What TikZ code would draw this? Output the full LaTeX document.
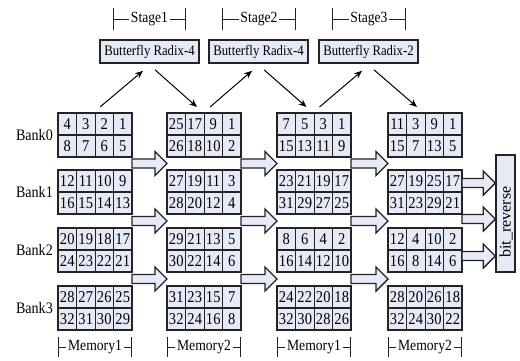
\documentclass[tikz,border=0pt]{standalone}
\usepackage{fontspec}
\setmainfont{Liberation Serif}[FakeStretch=0.88]
\newfontfamily\rawserif{Liberation Serif}
\usetikzlibrary{arrows.meta,calc}
\definecolor{cellfill}{RGB}{230,234,246}
\definecolor{edge}{RGB}{35,35,35}
\tikzset{
  blk/.style={minimum width=74pt, minimum height=44pt, inner sep=0pt, outer sep=0pt, fill=cellfill},
  cell/.style={minimum width=18.5pt, minimum height=22pt, inner sep=0pt, outer sep=0pt,
    draw=edge, line width=0.6pt, fill=cellfill, font=\fontsize{16.5}{16.5}\selectfont},
  blkline/.style={draw=edge, line width=1.5pt},
  bfbox/.style={draw=edge, line width=1.6pt, fill=cellfill, inner sep=0pt,
    minimum width=99pt, minimum height=23pt, font=\fontsize{14.5}{14.5}\selectfont},
  lbl/.style={inner sep=1.5pt, font=\fontsize{15.5}{15.5}\selectfont},
  banklbl/.style={inner sep=0pt, anchor=east, font=\fontsize{16}{16}\selectfont},
  dimline/.style={draw=edge, line width=0.9pt},
  thinarr/.style={draw=black, line width=1pt, -{Stealth[length=8pt,width=6.5pt]}},
  fatarrow/.style={draw=edge, line width=1.4pt, fill=cellfill,
    to path={let \p1=(\tikztostart), \p2=(\tikztotarget) in
      (\x1,{\y1+4.5pt}) -- ({\x2-12pt},{\y1+4.5pt}) -- ({\x2-12pt},{\y1+12pt}) -- (\x2,\y1)
      -- ({\x2-12pt},{\y1-12pt}) -- ({\x2-12pt},{\y1-4.5pt}) -- (\x1,{\y1-4.5pt}) -- cycle}}
}
\newcommand\memblock[5]{%
  \node[blk, anchor=north west] (#1) at (#2,#3) {};
  \foreach \v [count=\i from 0] in {#4}{\node[cell, anchor=north west] (#1-t\i) at ({#2+\i*18.5},#3) {\v};}
  \foreach \v [count=\i from 0] in {#5}{\node[cell, anchor=north west] (#1-b\i) at ({#2+\i*18.5},{#3+22}) {\v};}
  \draw[blkline] (#1.west) -- (#1.east);
  \draw[blkline] (#1.north west) rectangle (#1.south east);
}
\newcommand\spanlabel[6]{% name, xl, xr, y, bar width, text
  \node[lbl] (#1) at ({(#2+#3)/2},#4) {#6};
  \coordinate (#1-l) at (#2,#4);
  \coordinate (#1-r) at (#3,#4);
  \draw[dimline, -{Bar[width=#5]}] (#1.west) -- (#1-l);
  \draw[dimline, -{Bar[width=#5]}] (#1.east) -- (#1-r);
}
\begin{document}
\begin{tikzpicture}[x=1pt,y=-1pt]
\fill[white] (0,0) rectangle (520,360);
\useasboundingbox (0,0) rectangle (520,360);

% stage labels
\spanlabel{st1}{113}{186}{19}{22pt}{Stage1}
\spanlabel{st2}{222}{296}{19}{22pt}{Stage2}
\spanlabel{st3}{332}{406}{19}{22pt}{Stage3}

% butterfly boxes
\node[bfbox] (bf1) at (149.5,51.5) {Butterfly Radix-4};
\node[bfbox] (bf2) at (258.5,51.5) {Butterfly Radix-4};
\node[bfbox] (bf3) at (368.5,51.5) {Butterfly Radix-2};

% memory blocks
\memblock{m1-0}{58}{113}{4,3,2,1}{8,7,6,5}
\memblock{m1-1}{58}{170}{12,11,10,9}{16,15,14,13}
\memblock{m1-2}{58}{228}{20,19,18,17}{24,23,22,21}
\memblock{m1-3}{58}{286}{28,27,26,25}{32,31,30,29}

\memblock{m2-0}{167}{113}{25,17,9,1}{26,18,10,2}
\memblock{m2-1}{167}{170}{27,19,11,3}{28,20,12,4}
\memblock{m2-2}{167}{228}{29,21,13,5}{30,22,14,6}
\memblock{m2-3}{167}{286}{31,23,15,7}{32,24,16,8}

\memblock{m3-0}{277}{113}{7,5,3,1}{15,13,11,9}
\memblock{m3-1}{277}{170}{23,21,19,17}{31,29,27,25}
\memblock{m3-2}{277}{228}{8,6,4,2}{16,14,12,10}
\memblock{m3-3}{277}{286}{24,22,20,18}{32,30,28,26}

\memblock{m4-0}{388}{113}{11,3,9,1}{15,7,13,5}
\memblock{m4-1}{388}{170}{27,19,25,17}{31,23,29,21}
\memblock{m4-2}{388}{228}{12,4,10,2}{16,8,14,6}
\memblock{m4-3}{388}{286}{28,20,26,18}{32,24,30,22}

% bank labels
\node[banklbl] (bk0) at ($(m1-0.west)+(-5,0)$) {Bank0};
\node[banklbl] (bk1) at ($(m1-1.west)+(-5,0)$) {Bank1};
\node[banklbl] (bk2) at ($(m1-2.west)+(-5,0)$) {Bank2};
\node[banklbl] (bk3) at ($(m1-3.west)+(-5,0)$) {Bank3};

% memory labels
\spanlabel{me1}{58}{132}{347}{20pt}{Memory1}
\spanlabel{me2}{167}{241}{347}{20pt}{Memory2}
\spanlabel{me3}{277}{351}{347}{20pt}{Memory1}
\spanlabel{me4}{388}{462}{347}{20pt}{Memory2}

% arrows to and from butterflies
\draw[thinarr] ($(m1-0.north)+(5,-6)$) -- ($(bf1.south)+(-6.5,7)$);
\draw[thinarr] ($(bf1.south)+(5.5,6)$) -- ($(m2-0.north)+(-7,-6)$);
\draw[thinarr] ($(m2-0.north)+(6,-6)$) -- ($(bf2.south)+(-6.5,7)$);
\draw[thinarr] ($(bf2.south)+(5.5,6)$) -- ($(m3-0.north)+(-7.5,-6)$);
\draw[thinarr] ($(m3-0.north)+(5.5,-6)$) -- ($(bf3.south)+(-6.5,7)$);
\draw[thinarr] ($(bf3.south)+(5.5,6)$) -- ($(m4-0.north)+(-8,-6)$);

% block arrows between memories
\foreach \c/\d in {1/2,2/3,3/4}{
  \foreach \g/\h in {0/1,1/2,2/3}{
    \coordinate (s\c\g) at ($(m\c-\g.south east)!0.5!(m\c-\h.north east)$);
    \coordinate (e\c\g) at ($(m\d-\g.south west)!0.5!(m\d-\h.north west)$);
    \draw[fatarrow] (s\c\g) to (e\c\g);
  }
}

% bit reverse
\node[draw=edge, line width=1.5pt, fill=cellfill, minimum width=19pt, minimum height=117pt, inner sep=0pt] (br) at (505.5,213.5) {};
\node[rotate=90, inner sep=0pt, font=\rawserif\fontsize{16}{16}\selectfont] (brt) at (506,222) {bit\_reverse};
\coordinate (r1) at (462,183);
\coordinate (r2) at (462,219);
\coordinate (r3) at (462,256);
\draw[fatarrow] (r1) to (r1 -| br.west);
\draw[fatarrow] (r2) to (r2 -| br.west);
\draw[fatarrow] (r3) to (r3 -| br.west);
\end{tikzpicture}
\end{document}
